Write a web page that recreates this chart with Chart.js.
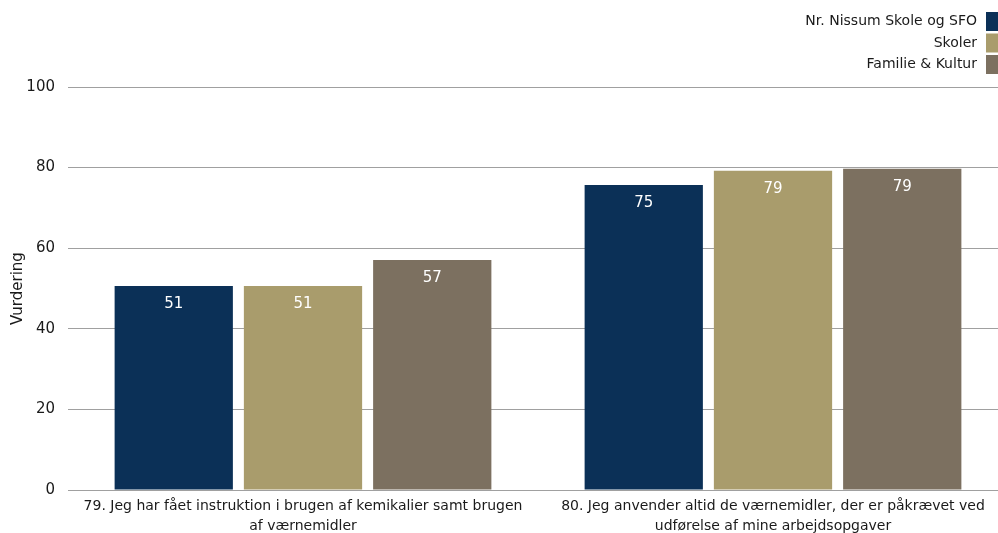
<!DOCTYPE html>
<html><head><meta charset="utf-8">
<script src="https://cdn.jsdelivr.net/npm/chart.js@4/dist/chart.umd.min.js"></script>
<style>html,body{margin:0;padding:0;overflow:hidden;background:#fff}#wrap{position:relative;width:1008px;height:533px}</style>
</head><body><div id="wrap"><canvas id="c" width="1008" height="533" style="width:1008px;height:533px"></canvas></div>
<script>
const categories = [
  ["79. Jeg har fået instruktion i brugen af kemikalier samt brugen", "af værnemidler"],
  ["80. Jeg anvender altid de værnemidler, der er påkrævet ved", "udførelse af mine arbejdsopgaver"]
];
const seriesNames = ["Nr. Nissum Skole og SFO", "Skoler", "Familie & Kultur"];
const nissum = [50.6, 75.7];
const skoler = [50.6, 79.2];
const familie = [57.1, 79.7];
const nissumLabels = ["51", "75"];
const skolerLabels = ["51", "79"];
const familieLabels = ["57", "79"];
const yTicks = [0, 20, 40, 60, 80, 100];
const colors = ["#0b3057", "#a99c6c", "#7c7060"];
const FONT = "DejaVu Sans";

const legendPlugin = {
  id: 'rightLegend',
  afterDraw(chart) {
    const ctx = chart.ctx;
    ctx.save();
    ctx.font = "14px '" + FONT + "'";
    ctx.textAlign = 'right';
    ctx.textBaseline = 'middle';
    chart.data.datasets.forEach((ds, i) => {
      const y = 21.5 + i * 21.5;
      ctx.fillStyle = ds.backgroundColor;
      ctx.fillRect(986, y - 9.5, 14, 19);
      ctx.fillStyle = '#1a1a1a';
      ctx.fillText(ds.label, 977, y);
    });
    ctx.restore();
  }
};
const valueLabels = {
  id: 'valueLabels',
  afterDatasetsDraw(chart) {
    const ctx = chart.ctx;
    ctx.save();
    ctx.font = "15px '" + FONT + "'";
    ctx.fillStyle = '#ffffff';
    ctx.textAlign = 'center';
    ctx.textBaseline = 'middle';
    chart.data.datasets.forEach((ds, i) => {
      chart.getDatasetMeta(i).data.forEach((el, j) => {
        ctx.fillText(ds.valueLabels[j], el.x, el.y + 18);
      });
    });
    ctx.restore();
  }
};

new Chart(document.getElementById('c'), {
  type: 'bar',
  data: {
    labels: categories,
    datasets: [
      { label: seriesNames[0], data: nissum, valueLabels: nissumLabels, backgroundColor: colors[0] },
      { label: seriesNames[1], data: skoler, valueLabels: skolerLabels, backgroundColor: colors[1] },
      { label: seriesNames[2], data: familie, valueLabels: familieLabels, backgroundColor: colors[2] }
    ]
  },
  options: {
    responsive: false,
    animation: false,
    devicePixelRatio: 1,
    layout: { padding: { top: 87, right: 0, left: 0, bottom: 0 } },
    plugins: { legend: { display: false }, tooltip: { enabled: false } },
    categoryPercentage: 0.825,
    barPercentage: 0.915,
    scales: {
      x: {
        grid: { display: false, drawTicks: false },
        border: { display: true, color: '#a0a0a0', width: 1 },
        ticks: { color: '#1a1a1a', font: { family: FONT, size: 14, lineHeight: 1.45 }, padding: 6, maxRotation: 0, autoSkip: false },
        afterFit(s) { s.height = 43; }
      },
      y: {
        min: 0, max: 100,
        afterBuildTicks(s) { s.ticks = yTicks.map(v => ({ value: v })); },
        grid: { color: '#a0a0a0', drawTicks: false, lineWidth: 1 },
        border: { display: false },
        ticks: { color: '#1a1a1a', font: { family: FONT, size: 15 }, padding: 13 },
        title: { display: true, text: 'Vurdering', color: '#1a1a1a', font: { family: FONT, size: 15 }, padding: { top: 9, bottom: 0 } },
        afterFit(s) { s.width = 68; }
      }
    }
  },
  plugins: [legendPlugin, valueLabels]
});
</script>
</body></html>
